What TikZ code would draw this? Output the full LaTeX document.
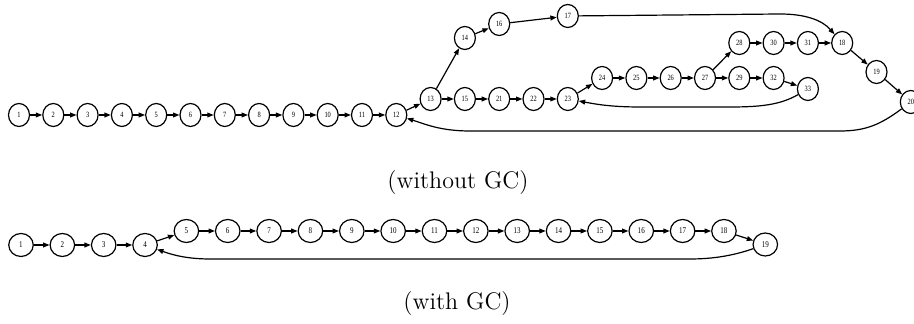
\documentclass[tikz,border=0pt]{standalone}
\usepackage{fontspec}
\newfontfamily\nodefont[FakeStretch=0.8]{Liberation Serif}
\usetikzlibrary{arrows.meta,shapes.geometric}
\begin{document}
\begin{tikzpicture}[x=0.5pt,y=-0.5pt,
  vnode/.style={ellipse,draw,line width=0.6pt,inner sep=0pt,
    minimum width=10.5pt,minimum height=11.5pt,
    font=\nodefont\fontsize{4}{5}\selectfont},
  wnode/.style={vnode,minimum width=12.25pt,
    font=\nodefont\fontsize{4.4}{5}\selectfont},
  arr/.style={line width=0.6pt,-{Triangle[length=3.2pt,width=2.4pt]}},
  caption/.style={font=\fontsize{12}{14}\selectfont}]
\useasboundingbox (0,0) rectangle (914,324);

% ---------- graph without GC ----------
\foreach \i in {1,...,12}
  \node[vnode] (a\i) at ({19+34.3*(\i-1)},115) {\i};
\node[vnode] (a13) at (430.6,99) {13};
\node[vnode] (a14) at (464.9,38) {14};
\node[vnode] (a16) at (499.2,24) {16};
\node[vnode] (a17) at (567.8,16) {17};
\node[vnode] (a15) at (464.9,99) {15};
\node[vnode] (a21) at (499.2,99) {21};
\node[vnode] (a22) at (533.5,99) {22};
\node[vnode] (a23) at (567.8,99) {23};
\node[vnode] (a24) at (602.1,78) {24};
\node[vnode] (a25) at (636.4,78) {25};
\node[vnode] (a26) at (670.7,78) {26};
\node[vnode] (a27) at (705,78) {27};
\node[vnode] (a28) at (739.3,43) {28};
\node[vnode] (a30) at (773.6,43) {30};
\node[vnode] (a31) at (807.9,43) {31};
\node[vnode] (a18) at (842.2,43) {18};
\node[vnode] (a29) at (739.3,78) {29};
\node[vnode] (a32) at (773.6,78) {32};
\node[vnode] (a33) at (807.9,89) {33};
\node[vnode] (a19) at (876.5,72) {19};
\node[vnode] (a20) at (910.8,102) {20};

\foreach \i [evaluate=\i as \j using int(\i+1)] in {1,...,11}
  \draw[arr] (a\i) -- (a\j);
\foreach \p/\q in {12/13,13/14,13/15,14/16,16/17,15/21,21/22,22/23,23/24,
                   24/25,25/26,26/27,27/28,27/29,28/30,30/31,31/18,29/32,
                   32/33,18/19,19/20}
  \draw[arr] (a\p) -- (a\q);
\draw[arr] (a17) -- (780,14) .. controls (805,14) and (822,20) .. (a18);
\draw[arr] (a33) .. controls (780,105) and (760,107) .. (730,107)
  -- (640,107) .. controls (610,107) and (595,104) .. (a23);
\draw[arr] (a20) .. controls (880,125) and (865,131) .. (840,131)
  -- (470,131) .. controls (440,131) and (425,124) .. (a12);

\node[caption] (capA) at (458,183) {(without GC)};

% ---------- graph with GC ----------
\foreach \i in {1,...,4}
  \node[wnode] (b\i) at ({21+41.35*(\i-1)},245) {\i};
\foreach \i in {5,...,18}
  \node[wnode] (b\i) at ({21+41.35*(\i-1)},231) {\i};
\node[wnode] (b19) at (765.3,244.5) {19};

\foreach \i [evaluate=\i as \j using int(\i+1)] in {1,...,18}
  \draw[arr] (b\i) -- (b\j);
\draw[arr] (b19) .. controls (735,255) and (715,259) .. (690,259)
  -- (210,259) .. controls (185,259) and (170,254) .. (b4);

\node[caption] (capB) at (457,304) {(with GC)};
\end{tikzpicture}
\end{document}
